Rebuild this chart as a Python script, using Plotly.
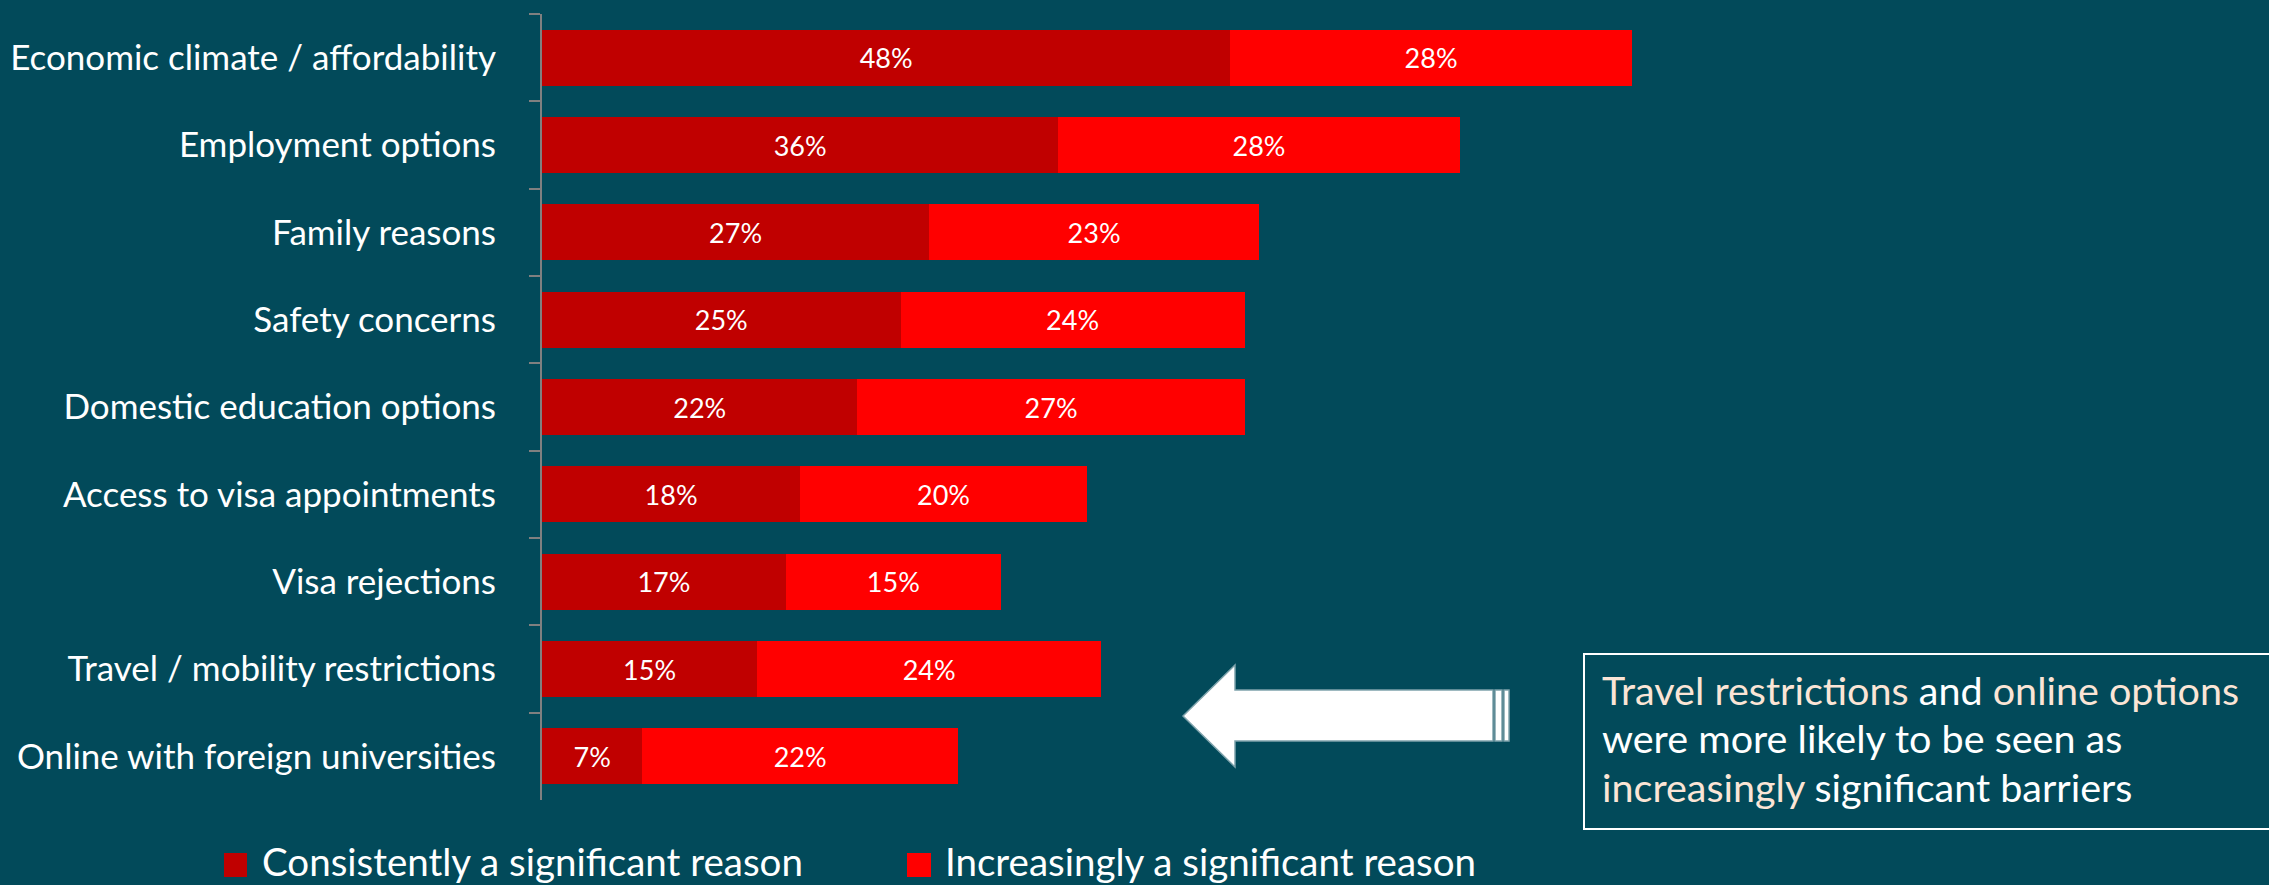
import plotly.graph_objects as go

categories = [
    "Economic climate / affordability",
    "Employment options",
    "Family reasons",
    "Safety concerns",
    "Domestic education options",
    "Access to visa appointments",
    "Visa rejections",
    "Travel / mobility restrictions",
    "Online with foreign universities",
]
consistently = [48, 36, 27, 25, 22, 18, 17, 15, 7]
increasingly = [28, 28, 23, 24, 27, 20, 15, 24, 22]
series_names = ["Consistently a significant reason", "Increasingly a significant reason"]
note_lines = [
    "<span style='color:#FBE5D6'>Travel restrictions</span> and <span style='color:#FBE5D6'>online options</span>",
    "were more likely to be seen as",
    "<span style='color:#FBE5D6'>increasingly</span> significant barriers",
]

BG = "#024A5A"
DARK = "#C00000"
RED = "#FF0000"
FONT = "Lato"

W, H = 2269, 885
ML, MR, MT, MB = 542, 0, 14, 85
PW = W - ML - MR
PH = H - MT - MB


def px(x):
    return (x - ML) / PW


def py(y):
    return (H - MB - y) / PH


fig = go.Figure()
fig.add_trace(go.Bar(
    y=categories, x=consistently, orientation="h", name=series_names[0],
    marker=dict(color=DARK, line=dict(width=0)),
    texttemplate="%{x}%", textposition="inside", insidetextanchor="middle",
    textfont=dict(color="white", size=27, family=FONT), showlegend=False,
))
fig.add_trace(go.Bar(
    y=categories, x=increasingly, orientation="h", name=series_names[1],
    marker=dict(color=RED, line=dict(width=0)),
    texttemplate="%{x}%", textposition="inside", insidetextanchor="middle",
    textfont=dict(color="white", size=27, family=FONT), showlegend=False,
))

shapes = []
annotations = []

# legend (manual)
leg = [(224, 247, DARK, 260, series_names[0]), (907, 931, RED, 943, series_names[1])]
for x0, x1, col, tx, name in leg:
    shapes.append(dict(type="rect", xref="paper", yref="paper",
                       x0=px(x0), x1=px(x1), y0=py(877), y1=py(853),
                       fillcolor=col, line=dict(width=0)))
    annotations.append(dict(xref="paper", yref="paper", x=px(tx), y=py(861),
                            xanchor="left", yanchor="middle", showarrow=False,
                            text=name, font=dict(color="white", size=38.5, family=FONT)))

# note box
shapes.append(dict(type="rect", xref="paper", yref="paper",
                   x0=px(1584), x1=px(2275), y0=py(829), y1=py(654),
                   fillcolor="rgba(0,0,0,0)", line=dict(color="white", width=2)))
for i, (ln, yy) in enumerate(zip(note_lines, [689, 737, 786])):
    annotations.append(dict(xref="paper", yref="paper", x=px(1600), y=py(yy),
                            xanchor="left", yanchor="middle", showarrow=False,
                            text=ln, font=dict(color="white", size=39.5, family=FONT)))

# block arrow
pts = [(1183, 716), (1235, 665), (1235, 690), (1493, 690), (1493, 741),
       (1235, 741), (1235, 767)]
path = "M " + " L ".join(f"{px(x):.5f},{py(y):.5f}" for x, y in pts) + " Z"
shapes.append(dict(type="path", xref="paper", yref="paper", path=path,
                   fillcolor="white", line=dict(color="#7FA3AC", width=1.5)))
for sx0, sx1 in [(1495, 1502), (1504, 1509)]:
    shapes.append(dict(type="rect", xref="paper", yref="paper",
                       x0=px(sx0), x1=px(sx1), y0=py(741), y1=py(690),
                       fillcolor="white", line=dict(color="#7FA3AC", width=1.5)))

fig.update_layout(
    width=W, height=H,
    margin=dict(l=ML, r=MR, t=MT, b=MB),
    paper_bgcolor=BG, plot_bgcolor=BG,
    barmode="stack", bargap=0.356,
    font=dict(family=FONT, color="white"),
    xaxis=dict(range=[0, PW / 14.34], visible=False, fixedrange=True),
    yaxis=dict(
        categoryorder="array", categoryarray=categories, autorange="reversed",
        showline=True, linecolor="#808080", linewidth=2,
        ticks="outside", ticklen=11, tickcolor="#808080", tickwidth=2,
        tickson="boundaries", showgrid=False, zeroline=False,
        tickfont=dict(size=35, color="white", family=FONT),
        ticklabelstandoff=37,
    ),
    shapes=shapes, annotations=annotations,
    showlegend=False,
)

fig.write_html(
    "out.html",
    config={"displayModeBar": False},
    post_script="document.body.style.margin='0';document.body.style.background='" + BG + "';",
)
